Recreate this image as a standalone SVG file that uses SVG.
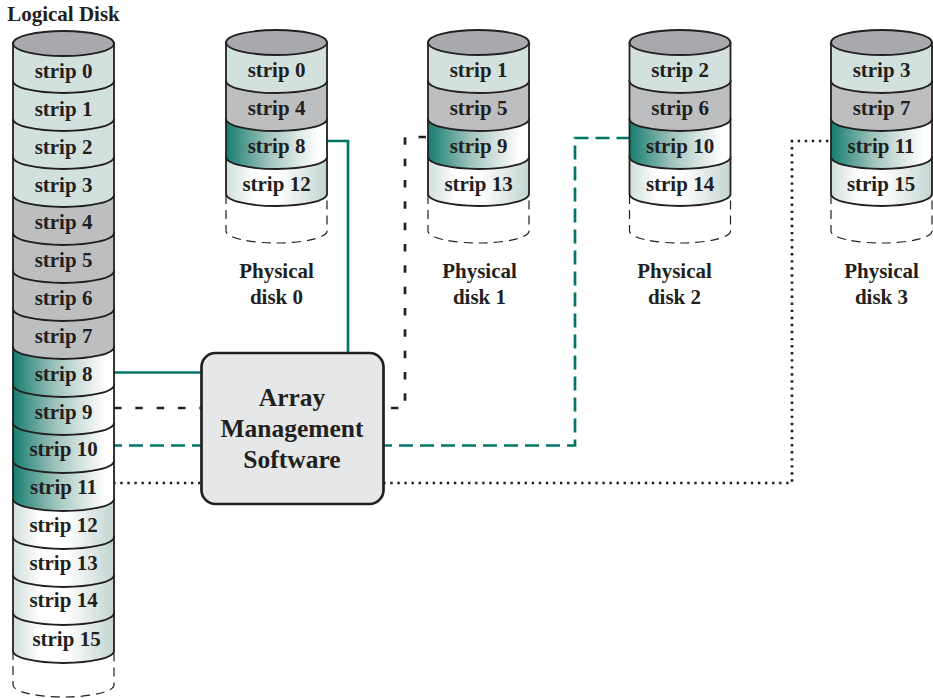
<svg xmlns="http://www.w3.org/2000/svg" width="933" height="698" viewBox="0 0 933 698">
<style>
text{font-family:"Liberation Serif","Times New Roman",serif;font-weight:bold;fill:#231f20;font-size:21px;text-anchor:middle}
.s{stroke:#231f20;stroke-width:1.8}
.top{fill:#a7a9ac}.p{fill:#d2e1de}.g{fill:#bcbec0}.t{fill:url(#teal)}.l{fill:url(#light)}
.e{fill:none;stroke:#231f20;stroke-width:1.2;stroke-dasharray:9 6}
.c{fill:none;stroke-width:2.7}
.teal{stroke:#00766a}.blk{stroke:#231f20}
.dash{stroke-dasharray:7.5 13.83}.tdash{stroke-dasharray:14 7;stroke-dashoffset:5}.dot{stroke-dasharray:2.4 4.67;stroke-dashoffset:6.87}
.big{font-size:25.5px}
</style>
<defs>
<linearGradient id="teal" x1="0" y1="0" x2="1" y2="0"><stop offset="0" stop-color="#167d70"/><stop offset="0.42" stop-color="#9fc3bc"/><stop offset="0.7" stop-color="#d9e6e3"/><stop offset="0.92" stop-color="#ffffff"/><stop offset="1" stop-color="#ffffff"/></linearGradient>
<linearGradient id="light" x1="0" y1="0" x2="1" y2="0"><stop offset="0" stop-color="#d0dfdb"/><stop offset="0.28" stop-color="#ffffff"/><stop offset="0.52" stop-color="#ffffff"/><stop offset="1" stop-color="#c3d5d1"/></linearGradient>
</defs>
<text x="63.500" y="21">Logical Disk</text>
<g id="connectors">
<path class="c teal" d="M327,141H348V353"/>
<path class="c teal" d="M113,372.500H201"/>
<path class="c blk dash" d="M114,408H201"/>
<path class="c blk dash" d="M426,137H405V408H383"/>
<path class="c teal tdash" d="M113,445.500H201"/>
<path class="c teal tdash" d="M383,445.500H575V138H630"/>
<path class="c blk dot" d="M113,483H201"/>
<path class="c blk dot" d="M383,483H792V141H831"/>
</g>
<g id="logical-disk">
<path class="e" d="M13,651V685A50.500,12 0 0 0 114,685V651"/>
<path class="s l" d="M13,613v38a50.500,12 0 0 0 101,0v-38z"/>
<path class="s l" d="M13,575v38a50.500,12 0 0 0 101,0v-38z"/>
<path class="s l" d="M13,537v38a50.500,12 0 0 0 101,0v-38z"/>
<path class="s l" d="M13,499v38a50.500,12 0 0 0 101,0v-38z"/>
<path class="s t" d="M13,461v38a50.500,12 0 0 0 101,0v-38z"/>
<path class="s t" d="M13,423v38a50.500,12 0 0 0 101,0v-38z"/>
<path class="s t" d="M13,385v38a50.500,12 0 0 0 101,0v-38z"/>
<path class="s t" d="M13,347v38a50.500,12 0 0 0 101,0v-38z"/>
<path class="s g" d="M13,309v38a50.500,12 0 0 0 101,0v-38z"/>
<path class="s g" d="M13,271v38a50.500,12 0 0 0 101,0v-38z"/>
<path class="s g" d="M13,233v38a50.500,12 0 0 0 101,0v-38z"/>
<path class="s g" d="M13,195v38a50.500,12 0 0 0 101,0v-38z"/>
<path class="s p" d="M13,157v38a50.500,12 0 0 0 101,0v-38z"/>
<path class="s p" d="M13,119v38a50.500,12 0 0 0 101,0v-38z"/>
<path class="s p" d="M13,81v38a50.500,12 0 0 0 101,0v-38z"/>
<path class="s p" d="M13,43v38a50.500,12 0 0 0 101,0v-38z"/>
<ellipse class="s top" cx="63.500" cy="43.500" rx="50.500" ry="12.500"/>
<text x="63.500" y="78">strip 0</text>
<text x="63.500" y="116">strip 1</text>
<text x="63.500" y="154">strip 2</text>
<text x="63.500" y="192">strip 3</text>
<text x="63.500" y="229">strip 4</text>
<text x="63.500" y="267">strip 5</text>
<text x="63.500" y="305">strip 6</text>
<text x="63.500" y="343">strip 7</text>
<text x="63.500" y="381">strip 8</text>
<text x="63.500" y="419">strip 9</text>
<text x="63.500" y="456">strip 10</text>
<text x="63.500" y="494">strip 11</text>
<text x="63.500" y="532">strip 12</text>
<text x="63.500" y="570">strip 13</text>
<text x="63.500" y="607">strip 14</text>
<text x="66.500" y="646">strip 15</text>
</g>
<g id="disk0">
<path class="e" d="M226,195V231A50.500,12 0 0 0 327,231V195"/>
<path class="s l" d="M226,157v37a50.500,12 0 0 0 101,0v-37z"/>
<path class="s t" d="M226,119v38a50.500,12 0 0 0 101,0v-38z"/>
<path class="s g" d="M226,81v38a50.500,12 0 0 0 101,0v-38z"/>
<path class="s p" d="M226,43v38a50.500,12 0 0 0 101,0v-38z"/>
<ellipse class="s top" cx="276.500" cy="42.500" rx="50.500" ry="12.500"/>
<text x="276.500" y="77">strip 0</text>
<text x="276.500" y="115">strip 4</text>
<text x="276.500" y="153">strip 8</text>
<text x="276.500" y="191">strip 12</text>
<text x="276.500" y="278">Physical</text>
<text x="276.500" y="304">disk 0</text>
</g>
<g id="disk1">
<path class="e" d="M428,195V231A50.500,12 0 0 0 529,231V195"/>
<path class="s l" d="M428,157v37a50.500,12 0 0 0 101,0v-37z"/>
<path class="s t" d="M428,119v38a50.500,12 0 0 0 101,0v-38z"/>
<path class="s g" d="M428,81v38a50.500,12 0 0 0 101,0v-38z"/>
<path class="s p" d="M428,43v38a50.500,12 0 0 0 101,0v-38z"/>
<ellipse class="s top" cx="478.500" cy="42.500" rx="50.500" ry="12.500"/>
<text x="478.500" y="77">strip 1</text>
<text x="478.500" y="115">strip 5</text>
<text x="478.500" y="153">strip 9</text>
<text x="478.500" y="191">strip 13</text>
<text x="479.500" y="278">Physical</text>
<text x="479.500" y="304">disk 1</text>
</g>
<g id="disk2">
<path class="e" d="M629.500,195V231A50.500,12 0 0 0 730.500,231V195"/>
<path class="s l" d="M629.500,157v37a50.500,12 0 0 0 101,0v-37z"/>
<path class="s t" d="M629.500,119v38a50.500,12 0 0 0 101,0v-38z"/>
<path class="s g" d="M629.500,81v38a50.500,12 0 0 0 101,0v-38z"/>
<path class="s p" d="M629.500,43v38a50.500,12 0 0 0 101,0v-38z"/>
<ellipse class="s top" cx="680" cy="42.500" rx="50.500" ry="12.500"/>
<text x="680" y="77">strip 2</text>
<text x="680" y="115">strip 6</text>
<text x="680" y="153">strip 10</text>
<text x="680" y="191">strip 14</text>
<text x="674.500" y="278">Physical</text>
<text x="674.500" y="304">disk 2</text>
</g>
<g id="disk3">
<path class="e" d="M831,195V231A50.500,12 0 0 0 932,231V195"/>
<path class="s l" d="M831,157v37a50.500,12 0 0 0 101,0v-37z"/>
<path class="s t" d="M831,119v38a50.500,12 0 0 0 101,0v-38z"/>
<path class="s g" d="M831,81v38a50.500,12 0 0 0 101,0v-38z"/>
<path class="s p" d="M831,43v38a50.500,12 0 0 0 101,0v-38z"/>
<ellipse class="s top" cx="881.500" cy="42.500" rx="50.500" ry="12.500"/>
<text x="881.500" y="77">strip 3</text>
<text x="881.500" y="115">strip 7</text>
<text x="881" y="153">strip 11</text>
<text x="881" y="191">strip 15</text>
<text x="881.500" y="278">Physical</text>
<text x="881.500" y="304">disk 3</text>
</g>
<g id="array-management-software">
<rect x="201.500" y="353" width="182" height="151" rx="14" fill="#e6e7e8" stroke="#231f20" stroke-width="2.700"/>
<text class="big" x="292" y="406">Array</text>
<text class="big" x="292" y="437">Management</text>
<text class="big" x="292" y="468">Software</text>
</g>
</svg>
